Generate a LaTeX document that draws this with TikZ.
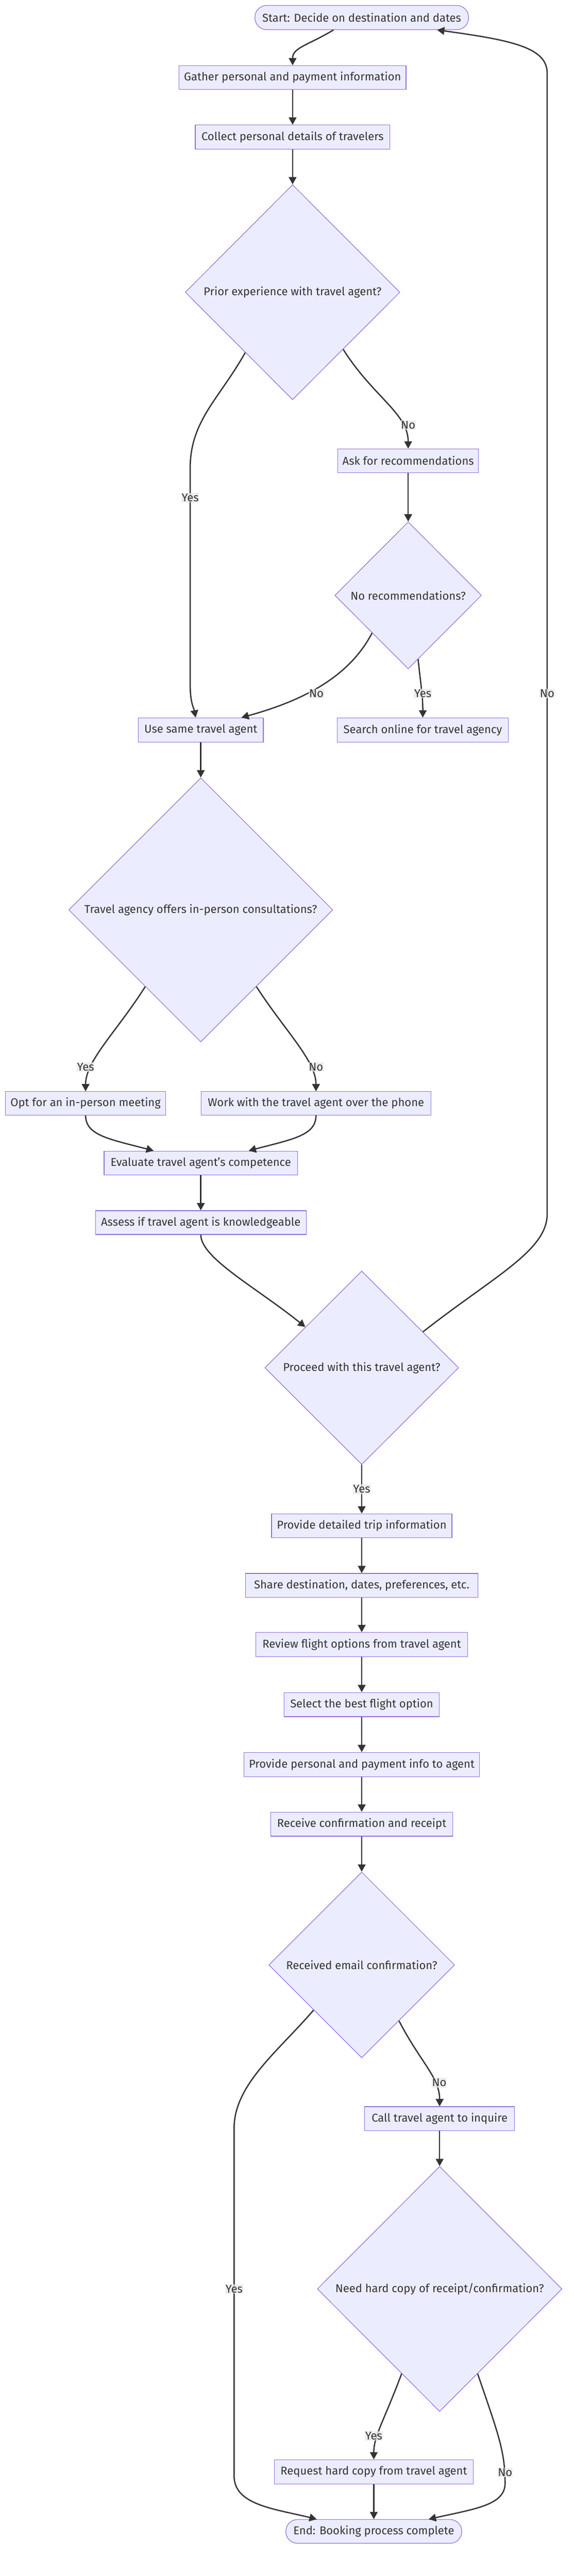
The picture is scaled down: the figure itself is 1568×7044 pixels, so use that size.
\documentclass[tikz,border=0pt]{standalone}
\usepackage{fontspec}
\setmainfont{Fira Sans}
\usetikzlibrary{shapes.geometric,arrows.meta,calc}
\definecolor{nodefill}{HTML}{ECECFF}
\definecolor{nodeborder}{HTML}{9370DB}
\definecolor{edgecol}{HTML}{333333}
\definecolor{lblbg}{HTML}{E8E8E8}
\begin{document}
\begin{tikzpicture}[x=1pt,y=-1pt,
  every node/.style={font=\fontsize{31}{37}\selectfont, text=edgecol},
  box/.style={draw=nodeborder, fill=nodefill, line width=1.7pt, inner sep=0pt, minimum height=65pt},
  stadium/.style={box, rounded corners=32pt},
  decision/.style={draw=nodeborder, fill=nodefill, line width=1.7pt, diamond, inner sep=0pt, aspect=1},
  edge/.style={draw=edgecol, line width=3.5pt, -{Triangle[length=20pt,width=21pt]}},
  lbl/.style={fill=lblbg, fill opacity=0.8, text opacity=1, inner xsep=1pt, inner ysep=2pt}
]
\useasboundingbox (0,0) rectangle (1568,7044);

% nodes
\node[stadium, minimum width=584pt, minimum height=66pt] (start) at (989,48) {Start: Decide on destination and dates};
\node[box, minimum width=620pt] (gather) at (800,212) {Gather personal and payment information};
\node[box, minimum width=532pt, minimum height=66pt] (collect) at (800,375) {Collect personal details of travelers};
\node[decision, minimum width=587pt, minimum height=588pt] (d1) at (800,799) {Prior experience with travel agent?};
\node[box, minimum width=385pt] (ask) at (1116,1260) {Ask for recommendations};
\node[decision, minimum width=401pt, minimum height=402pt] (d2) at (1116,1628) {No recommendations?};
\node[box, minimum width=342pt, minimum height=66pt] (same) at (549,1996) {Use same travel agent};
\node[box, minimum width=468pt, minimum height=66pt] (search) at (1156,1996) {Search online for travel agency};
\node[decision, minimum width=722pt, minimum height=722pt] (d3) at (549,2488) {Travel agency offers in-person consultations?};
\node[box, minimum width=438pt, minimum height=64pt] (opt) at (234,3017) {Opt for an in-person meeting};
\node[box, minimum width=628pt, minimum height=64pt] (work) at (864,3017) {Work with the travel agent over the phone};
\node[box, minimum width=529pt] (eval) at (549,3180) {Evaluate travel agent's competence};
\node[box, minimum width=576pt] (assess) at (549,3343) {Assess if travel agent is knowledgeable};
\node[decision, minimum width=530pt, minimum height=529pt] (d4) at (989,3740) {Proceed with this travel agent?};
\node[box, minimum width=493pt] (provide) at (989,4172) {Provide detailed trip information};
\node[box, minimum width=636pt] (share) at (989,4335) {Share destination, dates, preferences, etc.};
\node[box, minimum width=580pt, minimum height=66pt] (review) at (989,4497) {Review flight options from travel agent};
\node[box, minimum width=423pt, minimum height=66pt] (select) at (989,4661) {Select the best flight option};
\node[box, minimum width=643pt, minimum height=66pt] (ppi) at (989,4825) {Provide personal and payment info to agent};
\node[box, minimum width=497pt, minimum height=66pt] (receive) at (989,4988) {Receive confirmation and receipt};
\node[decision, minimum width=508pt, minimum height=508pt] (d5) at (989,5373) {Received email confirmation?};
\node[box, minimum width=410pt] (call) at (1202,5793) {Call travel agent to inquire};
\node[decision, minimum width=669pt, minimum height=670pt] (d6) at (1202,6259) {Need hard copy of receipt/confirmation?};
\node[box, minimum width=543pt, minimum height=66pt] (request) at (1022,6759) {Request hard copy from travel agent};
\node[stadium, minimum width=481pt] (endn) at (1022,6922) {End: Booking process complete};

% edges
\draw[edge] ($(start.south)+(-77,0)$) .. controls (840,125) and (800,130) .. (gather.north);
\draw[edge] (gather) -- (collect);
\draw[edge] (collect) -- (d1);
\draw[edge] ($(d1.south)!0.44!(d1.west)$) .. controls (600,1090) and (520,1150) .. (520,1280) -- (520,1870) .. controls (520,1925) and (530,1935) .. ($(same.north)+(-14,0)$);
\draw[edge] ($(d1.south)!0.47!(d1.east)$) .. controls (1020,1085) and (1116,1130) .. (ask.north);
\draw[edge] (ask) -- (d2);
\draw[edge] ($(d2.south)!0.49!(d2.west)$) .. controls (960,1840) and (850,1910) .. ($(same.north)+(111,0)$);
\draw[edge] ($(d2.south)!0.135!(d2.east)$) .. controls (1150,1870) and (1156,1900) .. (search.north);
\draw[edge] (same) -- (d3);
\draw[edge] ($(d3.south)!0.42!(d3.west)$) .. controls (320,2820) and (234,2900) .. (opt.north);
\draw[edge] ($(d3.south)!0.42!(d3.east)$) .. controls (780,2820) and (864,2900) .. (work.north);
\draw[edge] (opt.south) .. controls (234,3105) and (300,3115) .. ($(eval.north)+(-129,0)$);
\draw[edge] (work.south) .. controls (864,3105) and (800,3115) .. ($(eval.north)+(131,0)$);
\draw[edge] (eval) -- (assess);
\draw[edge] (assess.south) .. controls (549,3440) and (700,3520) .. ($(d4.north)!0.58!(d4.west)$);
\draw[edge] ($(d4.north)!0.63!(d4.east)$) .. controls (1350,3490) and (1496,3420) .. (1496,3320) -- (1496,200) .. controls (1496,130) and (1400,110) .. ($(start.south)+(206,0)$);
\draw[edge] (d4) -- (provide);
\draw[edge] (provide) -- (share);
\draw[edge] (share) -- (review);
\draw[edge] (review) -- (select);
\draw[edge] (select) -- (ppi);
\draw[edge] (ppi) -- (receive);
\draw[edge] (receive) -- (d5);
\draw[edge] ($(d5.south)!0.40!(d5.east)$) .. controls (1150,5640) and (1202,5680) .. (call.north);
\draw[edge] ($(d5.south)!0.516!(d5.west)$) .. controls (760,5610) and (640,5700) .. (640,5820) -- (640,6770) .. controls (640,6850) and (750,6860) .. ($(endn.north)+(-156,0)$);
\draw[edge] (call) -- (d6);
\draw[edge] ($(d6.south)!0.31!(d6.west)$) .. controls (1050,6620) and (1022,6660) .. (request.north);
\draw[edge] ($(d6.south)!0.31!(d6.east)$) .. controls (1360,6650) and (1381,6700) .. (1381,6790) .. controls (1381,6850) and (1300,6860) .. ($(endn.north)+(150,0)$);
\draw[edge] (request) -- (endn);

% edge labels
\node[lbl] (l1) at (1116,1162) {No};
\node[lbl] (l2) at (520,1361) {Yes};
\node[lbl] (l3) at (865,1896) {No};
\node[lbl] (l4) at (1156,1896) {Yes};
\node[lbl] (l5) at (1496,1896) {No};
\node[lbl] (l6) at (234,2918) {Yes};
\node[lbl] (l7) at (864,2918) {No};
\node[lbl] (l8) at (989,4072) {Yes};
\node[lbl] (l9) at (1201,5695) {No};
\node[lbl] (l10) at (640,6259) {Yes};
\node[lbl] (l11) at (1022,6661) {Yes};
\node[lbl] (l12) at (1381,6761) {No};
\end{tikzpicture}
\end{document}
